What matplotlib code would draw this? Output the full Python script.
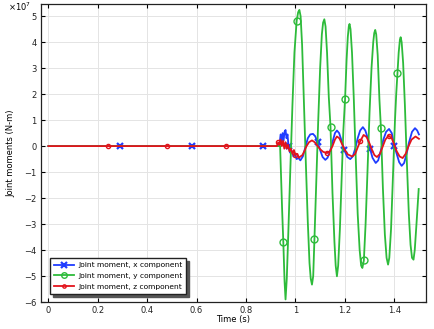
import numpy as np
import matplotlib
matplotlib.use('Agg')
import matplotlib.pyplot as plt
from matplotlib.lines import Line2D
from matplotlib.ticker import FuncFormatter

# joint moments, values in units of 1e7 N-m
t_flat = [0.0, 0.24, 0.29, 0.48, 0.58, 0.72, 0.87, 0.925]

t_x = t_flat + [0.935, 0.94, 0.944, 0.948, 0.952, 0.956, 0.96, 0.964, 0.968, 0.972, 0.978,
                0.986, 0.992, 0.998, 1.005, 1.012, 1.02, 1.03, 1.04, 1.05, 1.06, 1.071, 1.08,
                1.09, 1.1, 1.11, 1.121, 1.13, 1.14, 1.15, 1.16, 1.168, 1.177, 1.187, 1.198,
                1.21, 1.222, 1.232, 1.242, 1.252, 1.262, 1.273, 1.283, 1.293, 1.302, 1.312,
                1.325, 1.335, 1.345, 1.356, 1.367, 1.379, 1.39, 1.4, 1.41, 1.42, 1.43, 1.44,
                1.45, 1.46, 1.472, 1.484, 1.493, 1.5]
m_x = [0] * 8 + [0.0, 0.45, 0.15, 0.5, 0.2, 0.55, 0.62, 0.3, 0.45, 0.0, -0.25,
                 -0.2, -0.4, -0.3, -0.5, -0.45, -0.55, -0.4, -0.05, 0.3, 0.45, 0.47, 0.38,
                 0.15, -0.15, -0.42, -0.53, -0.45, -0.2, 0.15, 0.5, 0.6, 0.5, 0.2, -0.15,
                 -0.42, -0.5, -0.4, -0.1, 0.3, 0.6, 0.73, 0.6, 0.3, -0.1, -0.45,
                 -0.65, -0.55, -0.2, 0.25, 0.55, 0.66, 0.5, 0.02, -0.3, -0.62, -0.76, -0.65,
                 -0.3, 0.15, 0.55, 0.69, 0.6, 0.45]

t_y = t_flat + [0.938, 0.946, 0.951, 0.956, 0.96, 0.965, 0.971, 0.979, 0.988, 0.996, 1.005,
                1.011, 1.016, 1.021, 1.027, 1.034, 1.042, 1.05, 1.057, 1.062, 1.067, 1.072,
                1.077, 1.084, 1.092, 1.1, 1.107, 1.112, 1.117, 1.122, 1.128, 1.135, 1.142,
                1.15, 1.158, 1.163, 1.168, 1.173, 1.18, 1.188, 1.194, 1.201, 1.207, 1.212,
                1.216, 1.219, 1.223, 1.229, 1.236, 1.244, 1.252, 1.26, 1.266, 1.271, 1.277,
                1.284, 1.292, 1.3, 1.308, 1.315, 1.319, 1.323, 1.327, 1.333, 1.34, 1.346,
                1.354, 1.362, 1.369, 1.375, 1.38, 1.387, 1.395, 1.403, 1.408, 1.413, 1.418,
                1.423, 1.426, 1.43, 1.436, 1.443, 1.451, 1.459, 1.466, 1.472, 1.478, 1.483,
                1.49, 1.499]
m_y = [0] * 8 + [0.0, -2.4, -3.7, -5.2, -5.9, -5.1, -3.4, -1.0, 1.6, 3.6, 4.82,
                 5.15, 5.24, 5.0, 3.9, 1.8, -0.6, -2.9, -4.5, -5.1, -5.33, -5.0,
                 -3.57, -1.5, 0.9, 3.0, 4.3, 4.75, 4.88, 4.6, 3.6, 1.9, 0.75,
                 -1.8, -3.7, -4.6, -5.01, -4.6, -3.2, -1.0, 0.6, 1.82, 3.3, 4.2,
                 4.6, 4.7, 4.5, 3.6, 1.9, -0.4, -2.6, -4.0, -4.6, -4.69, -4.4,
                 -3.0, -0.9, 1.3, 3.0, 4.0, 4.35, 4.47, 4.3, 3.5, 1.8, 0.7,
                 -1.6, -3.4, -4.3, -4.56, -4.3, -3.2, -1.1, 1.0, 2.0, 2.8, 3.6,
                 4.1, 4.19, 4.0, 3.2, 1.6, -0.6, -2.6, -3.8, -4.3, -4.37, -4.0,
                 -3.0, -1.65]

t_z = t_flat + [0.93, 0.936, 0.94, 0.945, 0.95, 0.955, 0.96, 0.965, 0.97, 0.976, 0.982,
                0.988, 0.994, 1.0, 1.008, 1.014, 1.02, 1.028, 1.036, 1.045, 1.055, 1.067,
                1.078, 1.09, 1.1, 1.112, 1.128, 1.14, 1.15, 1.16, 1.168, 1.178, 1.19, 1.2,
                1.212, 1.23, 1.242, 1.252, 1.262, 1.276, 1.288, 1.3, 1.31, 1.32, 1.33, 1.342,
                1.352, 1.364, 1.377, 1.39, 1.4, 1.41, 1.422, 1.434, 1.446, 1.458, 1.47,
                1.486, 1.5]
m_z = [0] * 8 + [0.14, 0.05, 0.25, 0.0, 0.2, -0.1, 0.15, -0.1, 0.05, -0.2, -0.1,
                 -0.3, -0.15, -0.35, -0.3, -0.45, -0.4, -0.35, -0.2, 0.0, 0.15, 0.22,
                 0.15, 0.0, -0.12, -0.22, -0.27, -0.2, 0.0, 0.25, 0.37, 0.3, 0.05, -0.15,
                 -0.32, -0.4, -0.3, -0.05, 0.18, 0.43, 0.35, 0.1, -0.15, -0.35, -0.42, -0.3,
                 -0.05, 0.25, 0.4, 0.3, 0.05, -0.2, -0.4, -0.46, -0.3, 0.0, 0.25,
                 0.37, 0.28]

# times where the markers sit
mark_t_x = [0.29, 0.58, 0.87, 0.972, 1.09, 1.198, 1.302, 1.4]
mark_t_y = [0.951, 1.005, 1.077, 1.142, 1.201, 1.277, 1.346, 1.413]
mark_t_z = [0.24, 0.48, 0.72, 0.93, 1.0, 1.128, 1.262, 1.377]

labels = ['Joint moment, x component', 'Joint moment, y component', 'Joint moment, z component']
x_ticks = [0, 0.2, 0.4, 0.6, 0.8, 1.0, 1.2, 1.4]
y_ticks = list(range(-6, 6))


def idx(t, marks):
    t = np.asarray(t)
    return [int(np.argmin(np.abs(t - m))) for m in marks]


plt.rcParams['font.family'] = 'DejaVu Sans'
plt.rcParams['font.size'] = 6

fig = plt.figure(figsize=(4.35, 3.29), dpi=100)
ax = fig.add_axes([0.0936, 0.082, 0.979 - 0.0936, 0.988 - 0.082])

blue, green, red = '#1f3cff', '#2dbb3a', '#e3141c'
styles = [
    dict(color=blue, marker='x', ms=5, mew=1.6),
    dict(color=green, marker='o', ms=5, mew=1.0, mfc='none'),
    dict(color=red, marker='o', ms=3, mew=1.0, mfc='none'),
]
series = [(t_x, m_x, mark_t_x), (t_y, m_y, mark_t_y), (t_z, m_z, mark_t_z)]
for (t, m, mk), st in zip(series, styles):
    ax.plot(t, m, lw=1.3, markevery=idx(t, mk), **st)

ax.set_xlim(-0.031, 1.528)
ax.set_ylim(-6.0, 5.47)
ax.set_xticks(x_ticks)
ax.set_yticks(y_ticks)
ax.xaxis.set_major_formatter(FuncFormatter(lambda v, p: f'{v:g}'))
ax.tick_params(direction='in', top=True, right=True, length=3, width=0.8,
               labelsize=6, labelcolor='#222222', pad=3)
ax.grid(True, color='#e4e4e4', lw=0.7)
ax.set_axisbelow(True)
for s in ax.spines.values():
    s.set_linewidth(0.9)
    s.set_color('#222222')

ax.set_xlabel('Time (s)', fontsize=6, labelpad=0)
ax.set_ylabel('Joint moments (N-m)', fontsize=6, labelpad=6)
fig.text(0.019, 0.978, r'$\times10^7$', fontsize=6, va='center')

handles = [Line2D([], [], lw=1.3, **st) for st in styles]
for h in handles:
    h.set_markersize(h.get_markersize() * 0.8)
leg = ax.legend(handles, labels, loc='lower left', bbox_to_anchor=(0.024, 0.027),
                borderaxespad=0, fancybox=False, framealpha=1, edgecolor='#222222',
                shadow={'color': '#555555', 'alpha': 1}, handlelength=2.6,
                fontsize=5.4, borderpad=0.55, labelspacing=0.6, handletextpad=0.6)
leg.get_frame().set_linewidth(1.0)

fig.savefig('out.png', dpi=100)
